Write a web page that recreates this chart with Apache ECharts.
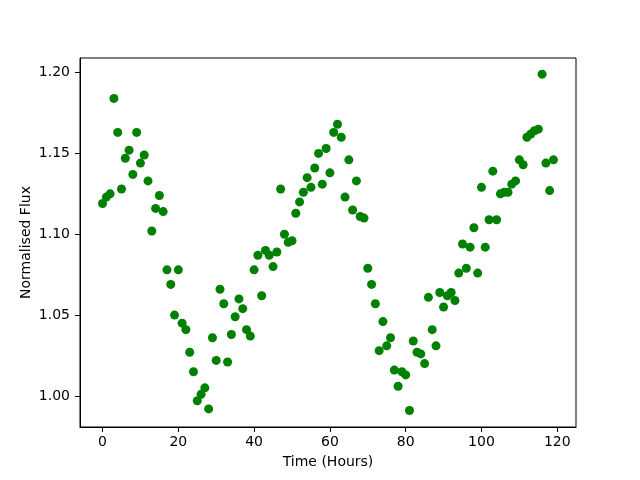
<!DOCTYPE html>
<html>
<head>
<meta charset="utf-8">
<script src="https://cdn.jsdelivr.net/npm/echarts@6/dist/echarts.min.js"></script>
<style>
  html, body { margin: 0; padding: 0; background: #fff; }
  #chart { width: 640px; height: 480px; }
</style>
</head>
<body>
<div id="chart"></div>
<script>
// time axis (hours) and measured flux
var hours = [
  0, 1, 2, 3, 4, 5, 6, 7, 8, 9, 10, 11, 12, 13, 14, 15, 16, 17, 18, 19,
  20, 21, 22, 23, 24, 25, 26, 27, 28, 29, 30, 31, 32, 33, 34, 35, 36, 37, 38, 39,
  40, 41, 42, 43, 44, 45, 46, 47, 48, 49, 50, 51, 52, 53, 54, 55, 56, 57, 58, 59,
  60, 61, 62, 63, 64, 65, 66, 67, 68, 69, 70, 71, 72, 73, 74, 75, 76, 77, 78, 79,
  80, 81, 82, 83, 84, 85, 86, 87, 88, 89, 90, 91, 92, 93, 94, 95, 96, 97, 98, 99,
  100, 101, 102, 103, 104, 105, 106, 107, 108, 109, 110, 111, 112, 113, 114, 115, 116, 117, 118, 119
];
var flux = [
  1.119, 1.123, 1.125, 1.184, 1.163, 1.128, 1.147, 1.152, 1.137, 1.163,
  1.144, 1.149, 1.133, 1.102, 1.116, 1.124, 1.114, 1.078, 1.069, 1.050,
  1.078, 1.045, 1.041, 1.027, 1.015, 0.997, 1.001, 1.005, 0.992, 1.036,
  1.022, 1.066, 1.057, 1.021, 1.038, 1.049, 1.060, 1.054, 1.041, 1.037,
  1.078, 1.087, 1.062, 1.090, 1.087, 1.080, 1.089, 1.128, 1.100, 1.095,
  1.096, 1.113, 1.120, 1.126, 1.135, 1.129, 1.141, 1.150, 1.131, 1.153,
  1.138, 1.163, 1.168, 1.160, 1.123, 1.146, 1.115, 1.133, 1.111, 1.110,
  1.079, 1.069, 1.057, 1.028, 1.046, 1.031, 1.036, 1.016, 1.006, 1.015,
  1.013, 0.991, 1.034, 1.027, 1.026, 1.020, 1.061, 1.041, 1.031, 1.064,
  1.055, 1.062, 1.064, 1.059, 1.076, 1.094, 1.079, 1.092, 1.104, 1.076,
  1.129, 1.092, 1.109, 1.139, 1.109, 1.125, 1.126, 1.126, 1.131, 1.133,
  1.146, 1.143, 1.160, 1.162, 1.164, 1.165, 1.199, 1.144, 1.127, 1.146
];
var xTicks = [0, 20, 40, 60, 80, 100, 120];
var yTicks = [1.00, 1.05, 1.10, 1.15, 1.20];

var points = hours.map(function (h, i) { return [h, flux[i]]; });

var font = 'DejaVu Sans';
var chart = echarts.init(document.getElementById('chart'));
var option = {
  animation: false,
  backgroundColor: '#fff',
  grid: {
    left: 80,
    right: 64,
    top: 58,
    bottom: 53,
    show: true,
    borderColor: '#000',
    borderWidth: 1,
    backgroundColor: '#fff'
  },
  xAxis: {
    type: 'value',
    min: -5.95,
    max: 124.95,
    name: 'Time (Hours)',
    nameLocation: 'middle',
    nameGap: 28,
    nameMoveOverlap: false,
    nameTextStyle: { fontFamily: font, fontSize: 14, color: '#000' },
    splitLine: { show: false },
    axisLine: { show: true, onZero: false, lineStyle: { color: '#000', width: 1 } },
    axisTick: { show: true, length: 5, customValues: xTicks, lineStyle: { color: '#000' } },
    axisLabel: {
      customValues: xTicks,
      margin: 8,
      fontFamily: font,
      fontSize: 14,
      color: '#000'
    }
  },
  yAxis: {
    type: 'value',
    min: 0.9808,
    max: 1.209,
    name: 'Normalised Flux',
    nameLocation: 'middle',
    nameGap: 47,
    nameMoveOverlap: false,
    nameTextStyle: { fontFamily: font, fontSize: 14, color: '#000' },
    splitLine: { show: false },
    axisLine: { show: true, onZero: false, lineStyle: { color: '#000', width: 1 } },
    axisTick: { show: true, length: 5, customValues: yTicks, lineStyle: { color: '#000' } },
    axisLabel: {
      customValues: yTicks,
      margin: 10,
      fontFamily: font,
      fontSize: 14,
      color: '#000',
      formatter: function (v) { return v.toFixed(2); }
    }
  },
  series: [{
    type: 'scatter',
    data: points,
    symbol: 'circle',
    symbolSize: 9,
    itemStyle: { color: '#008000', opacity: 1 }
  }]
};
chart.setOption(option);
</script>
</body>
</html>
